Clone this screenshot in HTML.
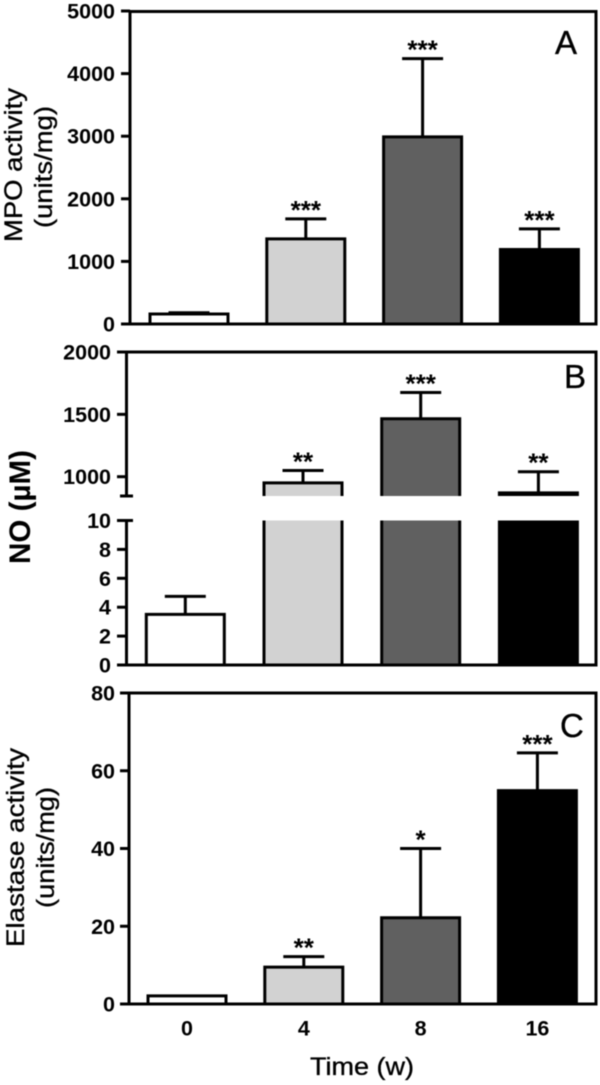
<!DOCTYPE html>
<html lang="en">
<head>
<meta charset="utf-8">
<title>MPO, NO and elastase over time</title>
<style>
  html, body { margin: 0; padding: 0; background: #fff; }
  body { width: 600px; height: 1085px; overflow: hidden; }
  svg { display: block; filter: blur(0.6px); }
  text { font-family: "Liberation Sans", Arial, sans-serif; fill: #000; }
  .title { stroke: #000; stroke-width: 0.35px; }
</style>
</head>
<body>
<svg id="chart" width="600" height="1085" viewBox="0 0 600 1085" xmlns="http://www.w3.org/2000/svg">
  <text class="title" transform="translate(22,242) rotate(-90)" font-size="25" textLength="154" lengthAdjust="spacingAndGlyphs">MPO activity</text>
  <text class="title" transform="translate(52,228) rotate(-90)" font-size="25" textLength="122" lengthAdjust="spacingAndGlyphs">(units/mg)</text>
  <text transform="translate(30,564) rotate(-90)" font-size="30" font-weight="bold" textLength="114" lengthAdjust="spacingAndGlyphs">NO (µM)</text>
  <text class="title" transform="translate(24,947) rotate(-90)" font-size="25" textLength="199" lengthAdjust="spacingAndGlyphs">Elastase activity</text>
  <text class="title" transform="translate(54,908) rotate(-90)" font-size="25" textLength="121" lengthAdjust="spacingAndGlyphs">(units/mg)</text>
  <text class="title" x="555" y="54" font-size="33">A</text>
  <text class="title" x="564" y="388" font-size="33">B</text>
  <text class="title" x="560" y="737" font-size="33">C</text>
  <text class="title" x="310" y="1075" font-size="25" textLength="104" lengthAdjust="spacingAndGlyphs">Time (w)</text>
</svg>
<script>
// ---- data ----
const categories = ['0', '4', '8', '16'];

const mpoValues = [160, 1360, 2990, 1190];
const mpoErrorTops = [180, 1680, 4240, 1520];
const mpoStars = ['', '***', '***', '***'];
const mpoTicks = [0, 1000, 2000, 3000, 4000, 5000];

const noValues = [3.5, 950, 1465, 870];
const noErrorTops = [4.75, 1050, 1675, 1040];
const noStars = ['', '**', '***', '**'];
const noTicks = [0, 2, 4, 6, 8, 10, 1000, 1500, 2000];

const elastaseValues = [2.1, 9.5, 22.2, 54.9];
const elastaseErrorTops = [2.1, 12.2, 40, 64.6];
const elastaseStars = ['', '**', '*', '***'];
const elastaseTicks = [0, 20, 40, 60, 80];

// ---- styling ----
const barFills = ['#ffffff', '#d2d2d2', '#606060', '#000000'];
const SW = 3;
const NS = 'http://www.w3.org/2000/svg';
const svg = document.getElementById('chart');

// ---- axis functions ----
const yA = v => 324 - v * (313 / 5000);
const yC = v => 1004 - v * (311 / 80);
const breakLow = 10;
const breakHigh = 845;
const yB = v => v <= breakLow ? 665 - v * 14.45 : 476.7 - (v - 1000) * 0.1247;

function xPos(panel, i) {
  return panel.first + i * panel.step;
}

function add(tag, attrs, text) {
  const el = document.createElementNS(NS, tag);
  for (const k in attrs) el.setAttribute(k, attrs[k]);
  if (text !== undefined) el.textContent = text;
  svg.appendChild(el);
  return el;
}

function line(x1, y1, x2, y2, name) {
  const el = add('line', { x1, y1, x2, y2, stroke: '#000', 'stroke-width': SW });
  
  
  return el;
}

function tickLabel(text, x, y, name) {
  const el = add('text', { x, y: y + 7.5, 'text-anchor': 'end', 'font-size': 21.5, 'font-weight': 'bold' }, text);
  
  
}

function drawBarPart(d, fill, name) {
  const el = add('path', { d, fill, stroke: '#000', 'stroke-width': SW, 'stroke-linejoin': 'miter' });
  
  
}

function drawStarsAndError(panel, i, cx, top, errTop, star) {
  if (errTop !== top) {
    line(cx, top, cx, errTop, panel.id + '-error-stem-' + categories[i]);
    line(cx - 20.5, errTop, cx + 20.5, errTop, panel.id + '-error-cap-' + categories[i]);
  }
  if (star) {
    const el = add('text', { x: cx, y: errTop, 'text-anchor': 'middle', 'font-size': 26, 'font-weight': 'bold' }, star);
    
    
  }
}

function drawFrame(panel) {
  line(panel.left, panel.top, panel.right, panel.top, panel.id + '-top-border');
  line(panel.right, panel.top - 1.5, panel.right, panel.bottom + 1.5, panel.id + '-right-border');
  line(panel.tickLeft, panel.bottom, panel.right, panel.bottom, panel.id + '-x-axis');
}

// ---- panel A ----
const panelA = { id: 'panel-a', first: 189, step: 116.8, left: 130, right: 596, top: 11.5, bottom: 324, tickLeft: 121, barW: 78 };
drawFrame(panelA);
line(panelA.left, panelA.top - 1.5, panelA.left, panelA.bottom, 'panel-a-y-axis');
mpoTicks.forEach(t => {
  line(panelA.tickLeft, yA(t), panelA.left, yA(t), 'panel-a-y-tick-' + t);
  tickLabel(String(t), 115, yA(t), 'panel-a-y-label-' + t);
});
mpoValues.forEach((v, i) => {
  const cx = xPos(panelA, i), w = panelA.barW / 2;
  drawStarsAndError(panelA, i, cx, yA(v), yA(mpoErrorTops[i]), mpoStars[i]);
  drawBarPart(`M${cx - w},${panelA.bottom} V${yA(v)} H${cx + w} V${panelA.bottom} Z`, barFills[i], 'panel-a-bar-' + categories[i]);
});

// ---- panel B (broken axis) ----
const panelB = { id: 'panel-b', first: 185.3, step: 117.7, left: 126.5, right: 596, top: 352, bottom: 665, tickLeft: 117, barW: 78 };
drawFrame(panelB);
line(panelB.left, panelB.top - 1.5, panelB.left, 496, 'panel-b-y-axis-upper');
line(panelB.left, yB(breakLow), panelB.left, panelB.bottom, 'panel-b-y-axis-lower');
line(120, 496, 133, 496, 'panel-b-axis-break-upper');
line(117, yB(breakLow), 133, yB(breakLow), 'panel-b-axis-break-lower');
noTicks.forEach(t => {
  line(panelB.tickLeft, yB(t), panelB.left, yB(t), 'panel-b-y-tick-' + t);
  tickLabel(String(t), 111, yB(t), 'panel-b-y-label-' + t);
});
noValues.forEach((v, i) => {
  const cx = xPos(panelB, i), w = panelB.barW / 2;
  drawStarsAndError(panelB, i, cx, yB(v), yB(noErrorTops[i]), noStars[i]);
  if (v > breakLow) {
    drawBarPart(`M${cx - w},${yB(breakHigh)} V${yB(v)} H${cx + w} V${yB(breakHigh)}`, barFills[i], 'panel-b-bar-upper-' + categories[i]);
    drawBarPart(`M${cx - w},${yB(breakLow)} V${panelB.bottom} H${cx + w} V${yB(breakLow)}`, barFills[i], 'panel-b-bar-lower-' + categories[i]);
  } else {
    drawBarPart(`M${cx - w},${panelB.bottom} V${yB(v)} H${cx + w} V${panelB.bottom} Z`, barFills[i], 'panel-b-bar-' + categories[i]);
  }
});

// ---- panel C ----
const panelC = { id: 'panel-c', first: 187, step: 116.8, left: 129, right: 596, top: 693, bottom: 1004, tickLeft: 120, barW: 78 };
drawFrame(panelC);
line(panelC.left, panelC.top - 1.5, panelC.left, panelC.bottom, 'panel-c-y-axis');
elastaseTicks.forEach(t => {
  line(panelC.tickLeft, yC(t), panelC.left, yC(t), 'panel-c-y-tick-' + t);
  tickLabel(String(t), 115, yC(t), 'panel-c-y-label-' + t);
});
elastaseValues.forEach((v, i) => {
  const cx = xPos(panelC, i), w = panelC.barW / 2;
  drawStarsAndError(panelC, i, cx, yC(v), yC(elastaseErrorTops[i]), elastaseStars[i]);
  drawBarPart(`M${cx - w},${panelC.bottom} V${yC(v)} H${cx + w} V${panelC.bottom} Z`, barFills[i], 'panel-c-bar-' + categories[i]);
});
categories.forEach((c, i) => {
  const el = add('text', { x: xPos(panelC, i), y: 1035.5, 'text-anchor': 'middle', 'font-size': 21.5, 'font-weight': 'bold' }, c);
  
  
});
</script>
</body>
</html>
